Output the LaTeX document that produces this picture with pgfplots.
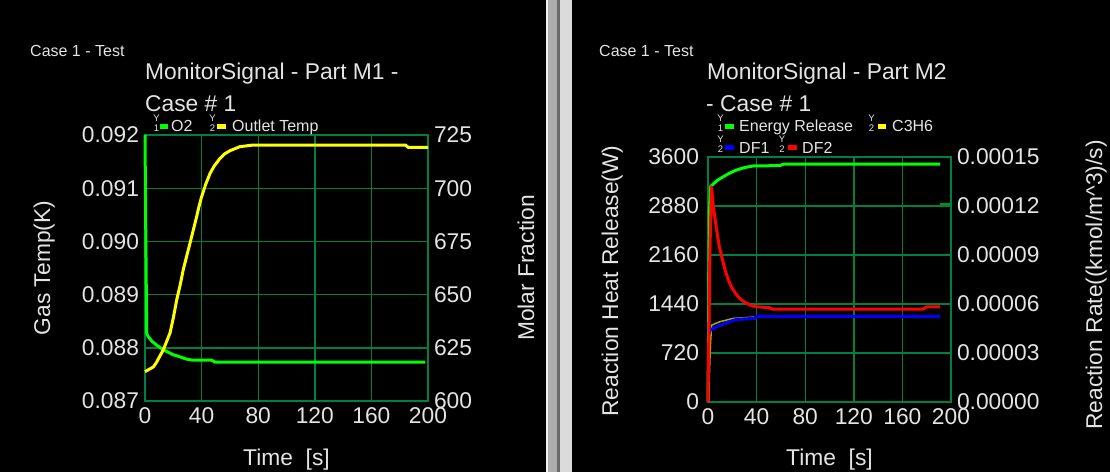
\documentclass[border=0pt]{standalone}
\usepackage{pgfplots}
\pgfplotsset{compat=1.18}
\usepackage{fontspec}
\setmainfont{Liberation Sans}
\definecolor{gridg}{RGB}{0,128,64}
\definecolor{txt}{RGB}{228,228,228}
\definecolor{cgreen}{RGB}{0,255,0}
\definecolor{cyellow}{RGB}{255,255,0}
\definecolor{cred}{RGB}{255,0,0}
\definecolor{cblue}{RGB}{0,0,255}
\definecolor{colive}{RGB}{170,170,0}
\newcommand\bigf{\fontsize{22.8}{26}\selectfont}
\newcommand\smf{\fontsize{16}{18}\selectfont}
\newcommand\tinyf{\fontsize{9.5}{9.5}\selectfont}
\pgfplotsset{
  base/.style={scale only axis, anchor=south west, clip=false,
    axis line style={draw=gridg, line width=1.4pt},
    major tick length=0pt, tick style={draw=none},
    ticklabel style={font=\bigf, text=txt},
    /pgf/number format/assume math mode=true,
    /pgf/number format/1000 sep={},
    scaled ticks=false,
    xmin=0, xmax=200, xtick={0,40,80,120,160,200},
    xticklabel style={yshift=-3.5pt},
  },
  mainax/.style={base, grid=major, major grid style={draw=gridg, line width=1.4pt},
    yticklabel style={xshift=-2.5pt}},
  secax/.style={base, axis y line*=right, axis x line=none,
    yticklabel style={xshift=2.5pt}},
}
\begin{document}
\begin{tikzpicture}[x=1pt,y=1pt]
\fill[black] (0,0) rectangle (1110,472);
\useasboundingbox (0,0) rectangle (1110,472);
% divider
\fill[white!95!black] (546,0) rectangle (548,472);
\fill[white!68!black] (548,0) rectangle (557,472);
\fill[white!42!black] (557,0) rectangle (560,472);
\fill[white!86!black] (560,0) rectangle (572,472);

% ---------------- left panel ----------------
\begin{axis}[mainax, at={(145pt,71pt)}, width=283pt, height=266pt,
  ymin=0.087, ymax=0.092, ytick={0.087,0.088,0.089,0.090,0.091,0.092},
  yticklabel style={/pgf/number format/.cd, fixed, fixed zerofill, precision=3}]
\addplot[cgreen, line width=3pt, line join=round] coordinates {
(0,0.09200) (0.6,0.09000) (1.2,0.08827) (2.3,0.08821) (5,0.08812) (8.3,0.08805)
(12,0.08798) (15.3,0.08793) (20,0.08787) (24.7,0.08783) (29,0.08779) (33,0.08777)
(47,0.08777) (49.5,0.08773) (198,0.08773)};
\end{axis}
\begin{axis}[secax, at={(145pt,71pt)}, width=283pt, height=266pt,
  ymin=600, ymax=725, ytick={600,625,650,675,700,725}]
\addplot[cyellow, line width=3pt, line join=round] coordinates {
(0,613.8) (5.9,616) (8,618) (10,620.5) (12.9,624) (15,627.5) (17.7,632) (20,639)
(22.4,647.5) (25,655) (27,661.6) (30,669.5) (31.8,674.1) (34,680) (36.5,686.6)
(38,691) (40,696) (43,702) (46,707) (49,710.5) (53,714) (56,716) (60,717.6)
(67,719.5) (76.5,720.3) (184,720.3) (186,719.2) (200,719.2)};
\end{axis}

\node[anchor=base west, inner sep=0, text=txt, font=\smf] at (30,415.3) {Case 1 - Test};
\node[anchor=base west, inner sep=0, text=txt, font=\bigf] at (145,392) {MonitorSignal - Part M1 -};
\node[anchor=base west, inner sep=0, text=txt, font=\bigf] at (145,360.3) {Case \# 1};
% legend left
\node[inner sep=0, text=txt, font=\tinyf] at (156.5,353.5) {Y};
\node[inner sep=0, text=txt, font=\tinyf] at (156.5,343.5) {1};
\fill[cgreen] (160,343) rectangle (168,348);
\node[anchor=base west, inner sep=0, text=txt, font=\smf] at (171,340.3) {O2};
\node[inner sep=0, text=txt, font=\tinyf] at (212.5,353.5) {Y};
\node[inner sep=0, text=txt, font=\tinyf] at (212.5,343.5) {2};
\fill[cyellow] (217,343) rectangle (226,348);
\node[anchor=base west, inner sep=0, text=txt, font=\smf] at (232,340.3) {Outlet Temp};
% axis labels left
\node[rotate=90, anchor=base, inner sep=0, text=txt, font=\bigf] at (50,204) {Gas Temp(K)};
\node[rotate=90, anchor=base, inner sep=0, text=txt, font=\bigf] at (534,204) {Molar Fraction};
\node[anchor=base, inner sep=0, text=txt, font=\bigf] at (286.5,7) {Time\ \ [s]};

% ---------------- right panel ----------------
\begin{axis}[mainax, at={(708pt,70pt)}, width=243pt, height=245pt,
  ymin=0, ymax=3600, ytick={0,720,1440,2160,2880,3600},
  yticklabel style={xshift=-3pt}]
\addplot[cgreen, line width=3pt, line join=round] coordinates {
(0,0) (1.2,2800) (2.2,3164) (5,3215) (8,3260) (12.6,3311) (18,3365) (23.6,3409)
(30,3445) (37.3,3468) (59.3,3474) (62,3495) (191,3495)};
\addplot[green!60!black, line width=2pt] coordinates {(191,2905) (200,2905)};
\end{axis}
\begin{axis}[secax, at={(708pt,70pt)}, width=243pt, height=245pt,
  ymin=0, ymax=0.00015, ytick={0,0.00003,0.00006,0.00009,0.00012,0.00015},
  yticklabel style={/pgf/number format/.cd, fixed, fixed zerofill, precision=5}]
\addplot[colive, line width=1.5pt] coordinates {
(0.4,0) (2.0,0.0000350) (3.0,0.0000471) (9.9,0.0000492) (20.8,0.0000512) (38,0.0000520)};
\addplot[cblue, line width=3pt, line join=round] coordinates {
(1.2,0.0000420) (1.6,0.0000441) (7.1,0.0000461) (15.4,0.0000486) (23.6,0.0000506)
(38.7,0.0000512) (40,0.0000525) (191,0.0000525)};
\addplot[cred, line width=3pt, line join=round] coordinates {
(0,0) (1.5,0.0000900) (2.8,0.0001318) (4.4,0.0001196) (7.1,0.0001053) (9.3,0.0000951)
(11.3,0.0000890) (14,0.0000810) (16.7,0.0000747) (20,0.0000695) (23.6,0.0000655)
(27.5,0.0000625) (31.9,0.0000604) (36,0.0000590) (40,0.0000583)
(51,0.0000577) (52.4,0.0000569) (177,0.0000569) (180,0.0000583) (191,0.0000583)};
\end{axis}

\node[anchor=base west, inner sep=0, text=txt, font=\smf] at (599,415.3) {Case 1 - Test};
\node[anchor=base west, inner sep=0, text=txt, font=\bigf] at (707,392) {MonitorSignal - Part M2};
\node[anchor=base west, inner sep=0, text=txt, font=\bigf] at (706,360.3) {- Case \# 1};
% legend right row 1
\node[inner sep=0, text=txt, font=\tinyf] at (720.5,353.5) {Y};
\node[inner sep=0, text=txt, font=\tinyf] at (720.5,343.5) {1};
\fill[cgreen] (725,343) rectangle (734,348);
\node[anchor=base west, inner sep=0, text=txt, font=\smf] at (739,340.3) {Energy Release};
\node[inner sep=0, text=txt, font=\tinyf] at (871.5,353.5) {Y};
\node[inner sep=0, text=txt, font=\tinyf] at (871.5,343.5) {2};
\fill[cyellow] (878,343) rectangle (886,348);
\node[anchor=base west, inner sep=0, text=txt, font=\smf] at (892,340.3) {C3H6};
% legend right row 2
\node[inner sep=0, text=txt, font=\tinyf] at (720.5,332.5) {Y};
\node[inner sep=0, text=txt, font=\tinyf] at (720.5,322.5) {2};
\fill[cblue] (725,322) rectangle (734,327);
\node[anchor=base west, inner sep=0, text=txt, font=\smf] at (739,318.7) {DF1};
\node[inner sep=0, text=txt, font=\tinyf] at (782,332.5) {Y};
\node[inner sep=0, text=txt, font=\tinyf] at (782,322.5) {2};
\fill[cred] (788,322) rectangle (797,327);
\node[anchor=base west, inner sep=0, text=txt, font=\smf] at (802,318.7) {DF2};
% axis labels right
\node[rotate=90, anchor=base, inner sep=0, text=txt, font=\bigf] at (618,191) {Reaction Heat Release(W)};
\node[rotate=90, anchor=base, inner sep=0, text=txt, font=\bigf] at (1102,187) {Reaction Rate((kmol/m\^{}3)/s)};
\node[anchor=base, inner sep=0, text=txt, font=\bigf] at (829.5,7) {Time\ \ [s]};
\end{tikzpicture}
\end{document}
